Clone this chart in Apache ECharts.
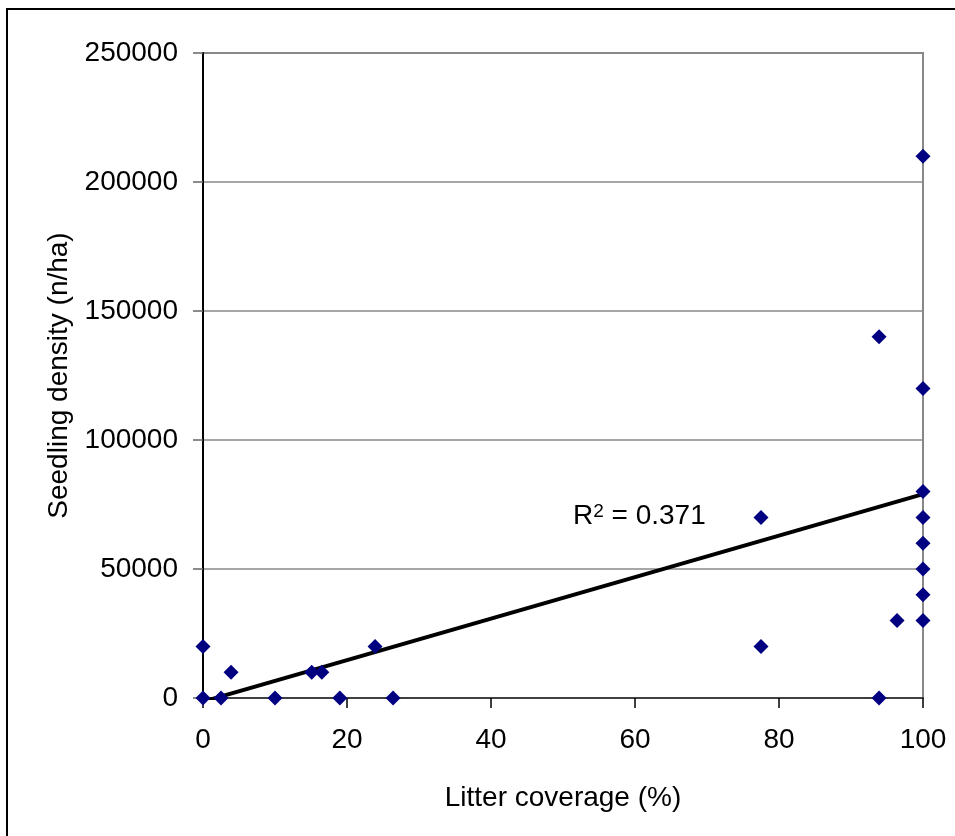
<!DOCTYPE html>
<html>
<head>
<meta charset="utf-8">
<title>Seedling density vs litter coverage</title>
<script src="https://cdn.jsdelivr.net/npm/echarts@6/dist/echarts.min.js"></script>
<style>
  html, body { margin: 0; padding: 0; background: #fff; }
  #main { width: 955px; height: 836px; }
</style>
</head>
<body>
<div id="main"></div>
<script>
// litter coverage (%) of each plot
var litterCover = [0, 0, 2.5, 3.9, 10, 15.1, 16.5, 19, 23.9, 26.4, 77.5, 77.5, 93.9, 93.9, 96.4, 100, 100, 100, 100, 100, 100, 100, 100];
// seedling density (n/ha) of each plot
var seedDensity = [20000, 0, 0, 10000, 0, 10000, 10000, 0, 20000, 0, 70000, 20000, 0, 140000, 30000, 210000, 120000, 80000, 70000, 60000, 50000, 40000, 30000];
// linear trend line (clipped at y = 0)
var trendX = [0, 100];
var trendY = [-1400, 79000];
var rSquared = '0.371';

var FONT = '"Liberation Sans", Arial, sans-serif';

var chart = echarts.init(document.getElementById('main'), null, { renderer: 'canvas' });

var points = litterCover.map(function (x, i) { return [x, seedDensity[i]]; });
var trend = trendX.map(function (x, i) { return [x, trendY[i]]; });

var option = {
  backgroundColor: '#fff',
  animation: false,
  textStyle: { fontFamily: FONT },
  grid: {
    left: 203,
    top: 53,
    right: 32,
    bottom: 138,
    show: true,
    borderColor: '#888',
    borderWidth: 2
  },
  xAxis: {
    type: 'value',
    min: 0,
    max: 100,
    interval: 20,
    name: 'Litter coverage (%)',
    nameLocation: 'middle',
    nameGap: 86,
    nameTextStyle: { fontSize: 28, color: '#000', fontFamily: FONT },
    axisLine: { onZero: false, lineStyle: { color: '#404040', width: 2 } },
    axisTick: { show: true, length: 10, lineStyle: { color: '#000', width: 1.5 } },
    axisLabel: { fontSize: 28, color: '#000', margin: 28, fontFamily: FONT },
    splitLine: { show: false }
  },
  yAxis: {
    type: 'value',
    min: 0,
    max: 250000,
    interval: 50000,
    name: 'Seedling density (n/ha)',
    nameLocation: 'middle',
    nameGap: 130,
    nameTextStyle: { fontSize: 28, color: '#000', fontFamily: FONT },
    axisLine: { onZero: false, lineStyle: { color: '#000', width: 2 } },
    axisTick: { show: true, length: 10, lineStyle: { color: '#666', width: 1.5 } },
    axisLabel: {
      fontSize: 28, color: '#000', margin: 25, fontFamily: FONT,
      formatter: function (v) { return String(v); }
    },
    splitLine: { show: true, lineStyle: { color: '#888', width: 1.5 } }
  },
  series: [
    {
      name: 'trend',
      type: 'line',
      data: trend,
      symbol: 'none',
      clip: true,
      lineStyle: { color: '#000', width: 4 },
      z: 3
    },
    {
      name: 'plots',
      type: 'scatter',
      data: points,
      symbol: 'diamond',
      symbolSize: 15,
      itemStyle: { color: '#000080', opacity: 1 },
      z: 4
    }
  ],
  graphic: [
    {
      type: 'rect',
      shape: { x: 7, y: 9, width: 1000, height: 1000 },
      style: { fill: 'none', stroke: '#000', lineWidth: 2 },
      silent: true
    },
    {
      type: 'text',
      left: 573,
      top: 502,
      style: {
        text: '{a|R}{s|2}{a| = ' + rSquared + '}',
        rich: {
          a: { fontSize: 28, fontFamily: FONT, fill: '#000', verticalAlign: 'bottom' },
          s: { fontSize: 19, fontFamily: FONT, fill: '#000', verticalAlign: 'top' }
        }
      }
    }
  ]
};

chart.setOption(option);
</script>
</body>
</html>
